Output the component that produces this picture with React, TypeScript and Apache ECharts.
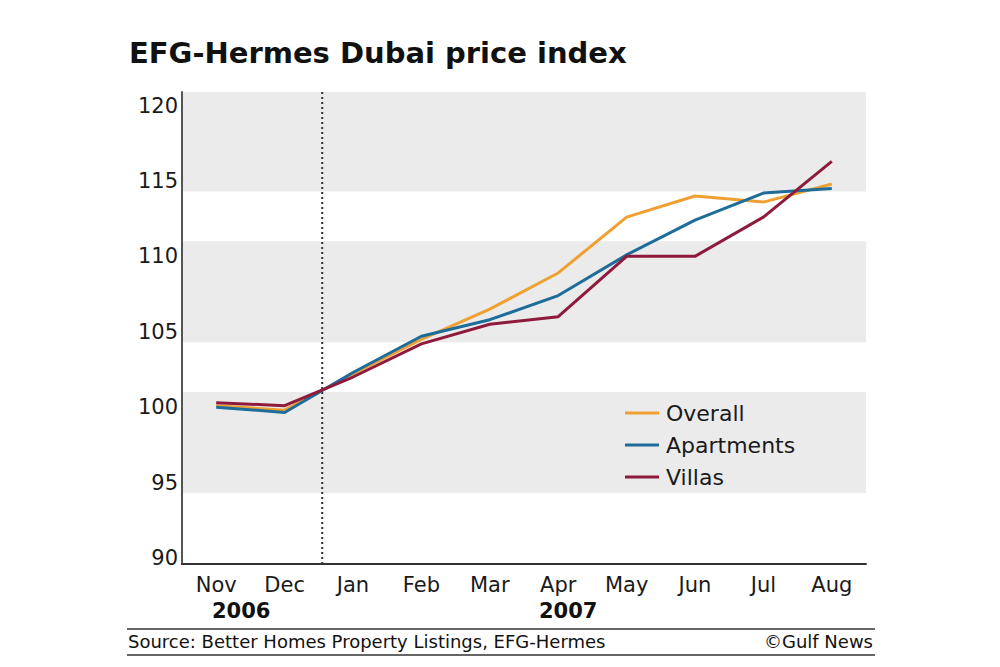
import React, { useEffect, useRef } from "react";
import * as echarts from "echarts";

const categories = ["Nov", "Dec", "Jan", "Feb", "Mar", "Apr", "May", "Jun", "Jul", "Aug"];
const overall = [100.1, 99.8, 102.2, 104.5, 106.5, 108.9, 112.6, 114.0, 113.6, 114.8];
const apartments = [100.0, 99.65, 102.3, 104.7, 105.8, 107.4, 110.1, 112.4, 114.2, 114.5];
const villas = [100.3, 100.1, 102.0, 104.2, 105.5, 106.0, 110.0, 110.0, 112.6, 116.3];
const yTicks = [90, 95, 100, 105, 110, 115, 120];
const bands = [
  [94.3, 101],
  [104.3, 111],
  [114.3, 120.9],
];
const dividerPos = 1.55;

const FONT = "'DejaVu Sans', 'Open Sans', sans-serif";

export default function App() {
  const ref = useRef<HTMLDivElement>(null);
  useEffect(() => {
    const chart = echarts.init(ref.current!, null, { renderer: "svg" });
    chart.setOption({
      animation: false,
      backgroundColor: "#ffffff",
      title: {
        text: "EFG-Hermes Dubai price index",
        left: 124,
        top: 33,
        textStyle: { fontFamily: FONT, fontWeight: "bold", fontSize: 29, color: "#111" },
      },
      legend: {
        orient: "vertical",
        left: 620,
        top: 397,
        itemGap: 10,
        itemWidth: 34,
        itemHeight: 3,
        icon: "rect",
        textStyle: { fontFamily: FONT, fontSize: 22, color: "#1a1a1a", padding: [0, 0, 0, 2] },
        data: ["Overall", "Apartments", "Villas"],
      },
      grid: { left: 182, right: 134, top: 92, bottom: 103 },
      xAxis: [
        {
          type: "category",
          data: categories,
          boundaryGap: true,
          z: 10,
          axisLine: { onZero: false, lineStyle: { color: "#333", width: 2 } },
          axisTick: { show: false },
          axisLabel: { fontFamily: FONT, fontSize: 21, color: "#1a1a1a", margin: 10 },
          splitLine: { show: false },
        },
        {
          type: "value",
          min: -0.5,
          max: 9.5,
          show: false,
        },
      ],
      yAxis: {
        type: "value",
        min: 89.6,
        max: 120.9,
        z: 10,
        axisLine: { show: true, onZero: false, lineStyle: { color: "#555", width: 2 } },
        axisTick: { show: false },
        splitLine: { show: false },
        axisLabel: {
          customValues: yTicks,
          fontFamily: FONT,
          fontSize: 21,
          color: "#1a1a1a",
          margin: 4,
        },
      },
      graphic: [
        { type: "text", left: 212, top: 600, style: { text: "2006", fontFamily: FONT, fontWeight: "bold", fontSize: 21, fill: "#111" } },
        { type: "text", left: 539, top: 600, style: { text: "2007", fontFamily: FONT, fontWeight: "bold", fontSize: 21, fill: "#111" } },
        { type: "line", shape: { x1: 127, y1: 629, x2: 875, y2: 629 }, style: { stroke: "#333", lineWidth: 1.5 } },
        { type: "line", shape: { x1: 127, y1: 655, x2: 875, y2: 655 }, style: { stroke: "#333", lineWidth: 1.5 } },
        { type: "text", left: 128, top: 632, style: { text: "Source: Better Homes Property Listings, EFG-Hermes", fontFamily: FONT, fontSize: 18, fill: "#111" } },
        { type: "text", right: 127, top: 632, style: { text: "©Gulf News", fontFamily: FONT, fontSize: 18, fill: "#111" } },
      ],
      series: [
        {
          name: "bands",
          type: "line",
          data: [],
          silent: true,
          z: 0,
          markArea: {
            silent: true,
            itemStyle: { color: "#ebebeb" },
            data: bands.map((b) => [{ yAxis: b[0] }, { yAxis: b[1] }]),
          },
        },
        {
          name: "divider",
          type: "line",
          xAxisIndex: 1,
          data: [
            [dividerPos, 89.6],
            [dividerPos, 120.9],
          ],
          symbol: "none",
          silent: true,
          lineStyle: { color: "#333", width: 2, type: [2, 3] },
          z: 1,
        },
        {
          name: "Overall",
          type: "line",
          data: overall,
          symbol: "none",
          itemStyle: { color: "#F0A030" },
          lineStyle: { color: "#F0A030", width: 3 },
          z: 3,
        },
        {
          name: "Apartments",
          type: "line",
          data: apartments,
          symbol: "none",
          itemStyle: { color: "#1E6C9A" },
          lineStyle: { color: "#1E6C9A", width: 3 },
          z: 4,
        },
        {
          name: "Villas",
          type: "line",
          data: villas,
          symbol: "none",
          itemStyle: { color: "#8E1A3C" },
          lineStyle: { color: "#8E1A3C", width: 3 },
          z: 5,
        },
      ],
    });
    return () => chart.dispose();
  }, []);
  return <div ref={ref} style={{ width: 1000, height: 667, margin: -8 }} />;
}
